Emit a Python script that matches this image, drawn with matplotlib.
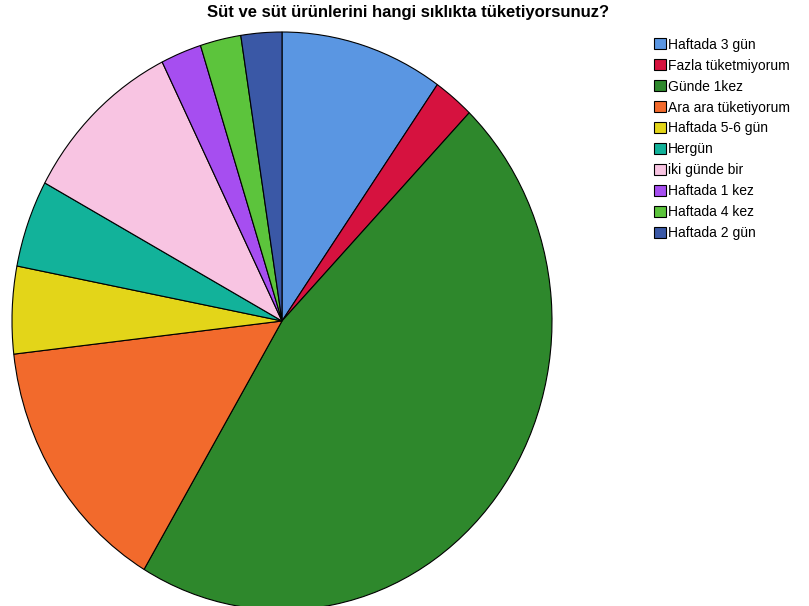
import matplotlib
matplotlib.use('Agg')
from matplotlib import pyplot as plt
from matplotlib.patches import Patch

# kategoriler ve sayilar (saat yonunde, tepeden baslayarak)
labels = ['Haftada 3 gün', 'Fazla tüketmiyorum', 'Günde 1kez', 'Ara ara tüketiyorum',
          'Haftada 5-6 gün', 'Hergün', 'iki günde bir', 'Haftada 1 kez',
          'Haftada 4 kez', 'Haftada 2 gün']
counts = [4, 1, 19, 6, 2, 2, 4, 1, 1, 1]
colors = ['#5A96E2', '#D6123F', '#2E882C', '#F26A2C', '#E3D519',
          '#12B29A', '#F8C4E2', '#A64EF0', '#5CC43C', '#3A58A6']

plt.rcParams['font.family'] = ['Liberation Sans', 'DejaVu Sans']

fig = plt.figure(figsize=(8.09, 6.06), dpi=100)
fig.text(408 / 809, 1 - 12 / 606, 'Süt ve süt ürünlerini hangi sıklıkta tüketiyorsunuz?',
         ha='center', va='center', fontsize=12, fontweight='bold')

ax = fig.add_axes([12 / 809, -4 / 606, 540 / 809, 578 / 606])
ax.pie(counts, colors=colors, startangle=90, counterclock=False,
       wedgeprops={'edgecolor': 'black', 'linewidth': 0.8})
ax.set_aspect('auto')
ax.set_xlim(-1, 1)
ax.set_ylim(-1, 1)

handles = [Patch(facecolor=c, edgecolor='black', linewidth=0.8) for c in colors]
fig.legend(handles, labels, loc='upper left', bbox_to_anchor=(644 / 809, 1 - 28 / 606),
           frameon=False, fontsize=10, handlelength=0.85, handleheight=0.85,
           handletextpad=0.2, labelspacing=0.5, borderpad=0.2)

plt.savefig('out.png', dpi=100)
